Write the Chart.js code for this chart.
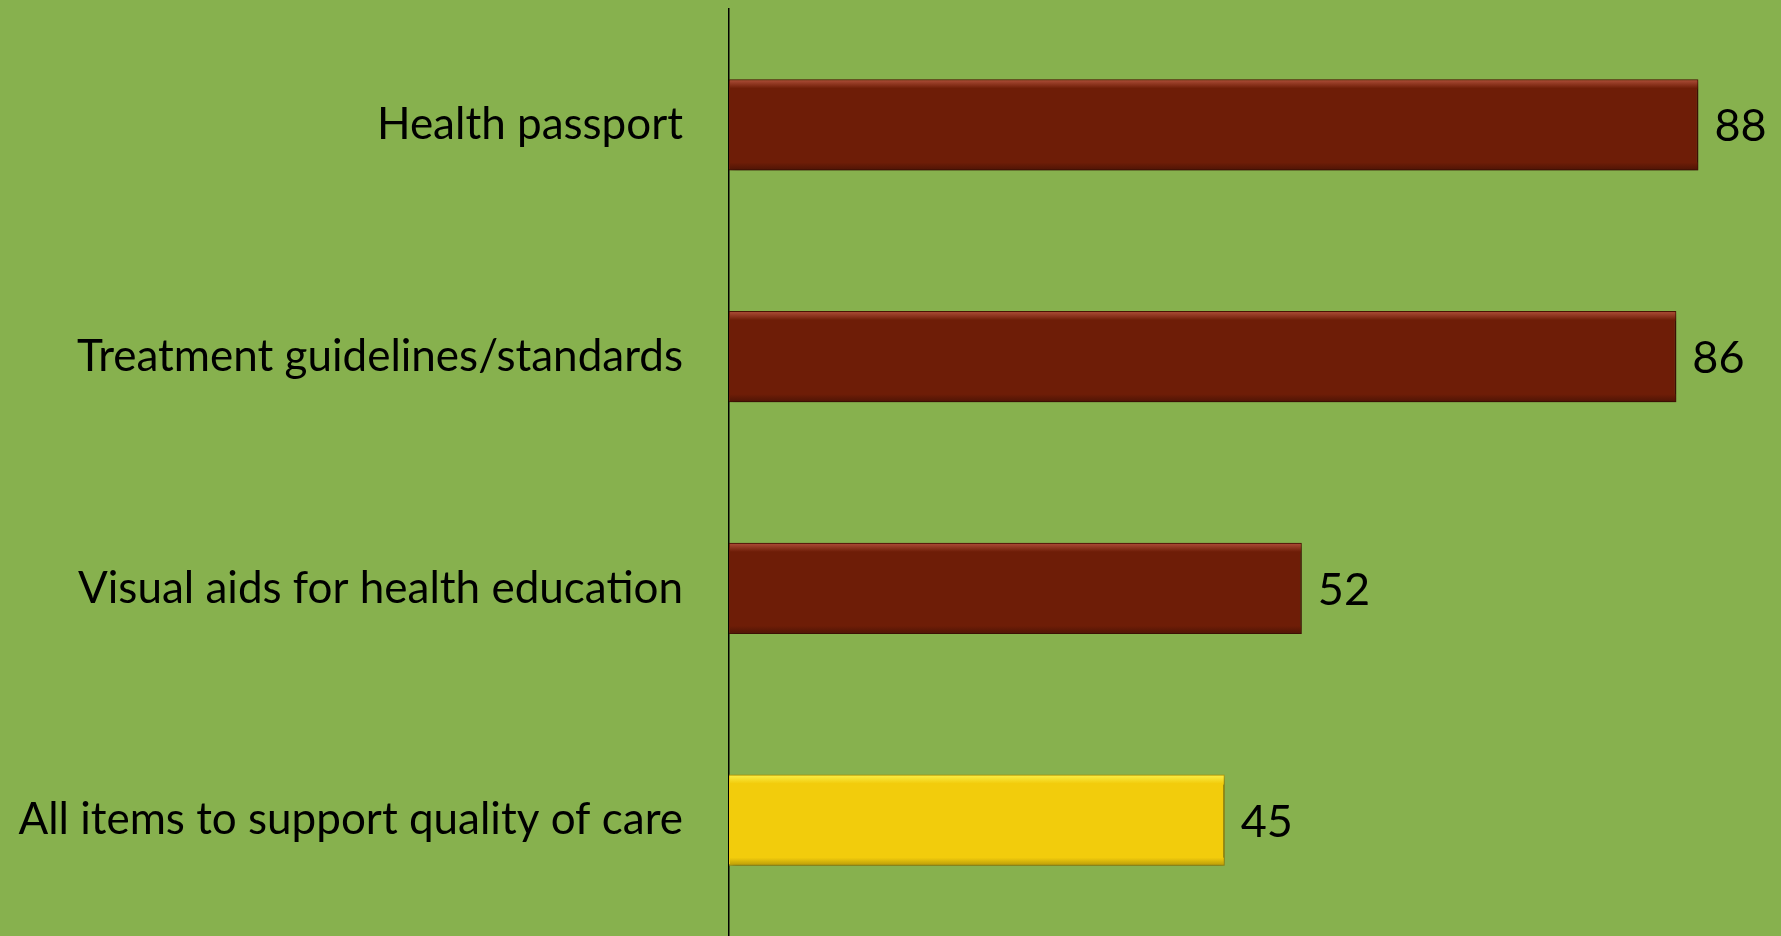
<!DOCTYPE html>
<html lang="en">
<head>
<meta charset="UTF-8">
<title>Quality of care items</title>
<style>
  html, body { margin: 0; padding: 0; background: #87b14e; overflow: hidden; }
  #wrap { width: 1781px; height: 936px; position: relative; }
</style>
</head>
<body>
<div id="wrap"><canvas id="chart"></canvas></div>

<script src="https://cdn.jsdelivr.net/npm/chart.js"></script>
<script>
  const categories = ['Health passport', 'Treatment guidelines/standards', 'Visual aids for health education', 'All items to support quality of care'];
  const values = [88, 86, 52, 45];
  const barColors = ['#6e1d07', '#6e1d07', '#6e1d07', '#f2cc0c'];
  const edgeColors = ['#4e1405', '#4e1405', '#4e1405', '#b89a08'];
  const lightColors = ['#b0503a', '#b0503a', '#b0503a', '#fbf04a'];

  const FONT = 'Lato, "Open Sans", sans-serif';

  // value at the end of each bar
  const valueLabels = {
    id: 'valueLabels',
    afterDatasetsDraw(chart) {
      const ctx = chart.ctx;
      const meta = chart.getDatasetMeta(0);
      ctx.save();
      ctx.font = '45px ' + FONT;
      ctx.fillStyle = '#000';
      ctx.textBaseline = 'middle';
      ctx.textAlign = 'left';
      meta.data.forEach((bar, i) => {
        ctx.fillText(values[i], bar.x + 16, bar.y + 2);
      });
      ctx.restore();
    }
  };

  // soft shadow under bars
  const barShadow = {
    id: 'barShadow',
    beforeDatasetsDraw(chart) {
      chart.ctx.save();
      chart.ctx.shadowColor = 'rgba(0,0,0,0.35)';
      chart.ctx.shadowBlur = 6;
      chart.ctx.shadowOffsetY = 3;
      chart.ctx.shadowOffsetX = 2;
    },
    afterDatasetsDraw(chart) {
      chart.ctx.restore();
    }
  };

  // thin bevel: light strip at the top, darker strip at the bottom
  const barBevel = {
    id: 'barBevel',
    afterDatasetsDraw(chart) {
      const ctx = chart.ctx;
      const meta = chart.getDatasetMeta(0);
      ctx.save();
      meta.data.forEach((bar, i) => {
        const top = bar.y - bar.height / 2;
        const bottom = bar.y + bar.height / 2;
        const left = bar.base;
        const right = bar.x;
        let g = ctx.createLinearGradient(0, top, 0, top + 9);
        g.addColorStop(0, lightColors[i]);
        g.addColorStop(1, barColors[i]);
        ctx.fillStyle = g;
        ctx.fillRect(left + 1, top + 1, right - left - 2, 9);
        g = ctx.createLinearGradient(0, bottom - 8, 0, bottom);
        g.addColorStop(0, barColors[i]);
        g.addColorStop(1, edgeColors[i]);
        ctx.fillStyle = g;
        ctx.fillRect(left + 1, bottom - 8, right - left - 2, 7);
      });
      ctx.restore();
    }
  };

  new Chart(document.getElementById('chart'), {
    type: 'bar',
    data: {
      labels: categories,
      datasets: [{
        data: values,
        backgroundColor: barColors,
        borderColor: edgeColors,
        borderWidth: 1.5,
        barPercentage: 0.393,
        categoryPercentage: 1
      }]
    },
    options: {
      indexAxis: 'y',
      responsive: true,
      maintainAspectRatio: false,
      animation: false,
      layout: { padding: { top: 9, bottom: 0, left: 0, right: 0 } },
      plugins: {
        legend: { display: false },
        tooltip: { enabled: false }
      },
      scales: {
        x: {
          display: false,
          min: 0,
          max: 95.5
        },
        y: {
          grid: { display: false, drawTicks: false },
          border: { display: true, color: '#000', width: 1.5 },
          ticks: {
            color: '#000',
            padding: 46,
            font: { family: FONT, size: 44 }
          },
          afterFit(scale) {
            scale.width = 729;
            scale.paddingTop = 0;
            scale.paddingBottom = 0;
          }
        }
      }
    },
    plugins: [barShadow, barBevel, valueLabels]
  });
</script>
</body>
</html>
